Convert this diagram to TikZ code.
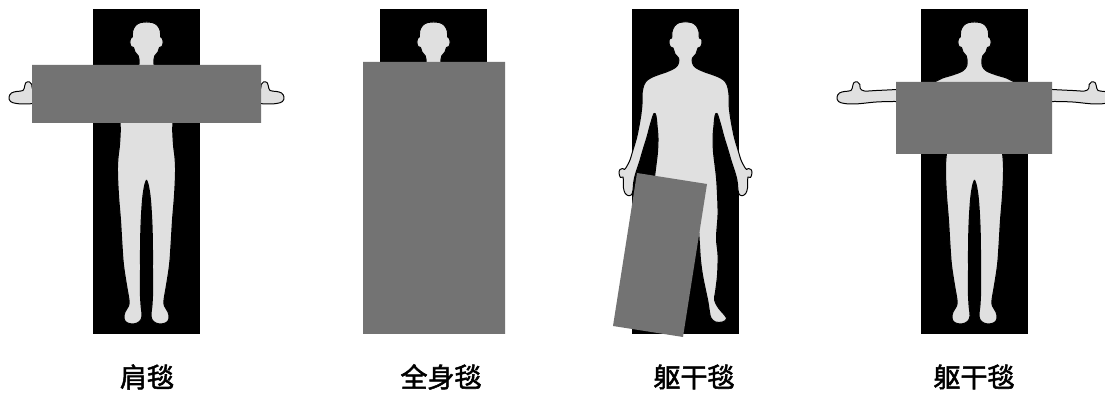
\documentclass[tikz,border=0pt]{standalone}
\usepackage{fontspec}
\usepackage{tikz}
\usepackage{tkz-euclide}
\newfontfamily\cjk[FakeBold=2]{Noto Sans CJK SC}

\definecolor{skin}{gray}{0.88}
\definecolor{blanket}{gray}{0.45}

% right halves of the two figures, x measured from the centre line
\newcommand\armsout{plot[smooth, tension=0.6] coordinates {(0,22) (6,22.6) (11,25.5)
  (13.8,31) (14.2,37) (16,38.5) (16.6,42) (15.6,46.5) (13,47.5) (11.5,52) (8.2,56)
  (7.4,60) (7.8,66) (12,71) (22,75) (32,78) (38,81) (46,85) (60,88) (78,89.5)
  (98,90.5) (110,91) (114.2,88.5) (114.6,84.5) (117,82) (120.5,82.5) (121.8,86)
  (123.5,90.5) (130,91.5) (135,93) (137.5,97) (136,101.5) (130,103.5) (120,104)
  (110,103.2) (98,102) (80,101.5) (60,102.2) (45,103.5) (34,105) (29.5,108)
  (27.5,116) (26.2,128) (27,145) (28.5,158) (29,172) (28,195) (26,220) (24.5,245)
  (23,265) (20,285) (17.5,300) (18,306) (21.5,312) (22.5,318) (20,322.5) (13,324)
  (7,321.5) (4.5,316) (5.5,305) (6.2,290) (6,270) (6,250) (5.5,225) (4,200)
  (2,186) (0,180)}}
\newcommand\armsdown{plot[smooth, tension=0.6] coordinates {(0,22) (6,22.5) (11,26)
  (13.5,32) (13.8,38) (16,39) (16.5,43) (15,47) (12.5,48) (10.5,54) (7,58) (7,63)
  (10,67.5) (18,71.5) (28,75) (35,78) (40,82) (42.5,88) (43.5,95) (43.5,104)
  (44.5,114) (46.5,126) (49,138) (52.5,150) (55.5,160) (58.5,166) (61,169.5)
  (63,168.5) (65.5,169.5) (66.5,173) (65,177.5) (62.5,177) (62.2,182) (62,188)
  (60.5,193) (57.5,195.5) (54,194.8) (52.5,190) (52,184) (51,178) (49,171)
  (46,162) (42.5,150) (38.5,137) (35,124) (31.5,113.5) (29.5,116) (28.5,125)
  (27.5,138) (28,152) (29.5,165) (31,178) (32,195) (32.5,215) (31,238) (32.5,255)
  (32,275) (30,292) (29,300) (33,308) (39,315) (41,319) (37,322) (30,322)
  (25.5,318) (24,312) (22.5,302) (20,290) (17,275) (15,260) (14,245) (12.5,225)
  (9,205) (4,193) (0,189)}}

% #1 half outline, #2 height of the crotch
\newcommand\person[2]{%
  \foreach \s in {1,-1} \fill[skin, xscale=\s] #1 -- (-1,#2) -- (-1,22) -- cycle;
  \foreach \s in {1,-1} \draw[outline, xscale=\s] #1;}

\tikzset{
  bed/.style={fill=black},
  outline/.style={draw=black, line width=0.5pt, line join=round},
  caption/.style={font={\cjk\fontsize{13.5}{16}\selectfont}, inner sep=0pt},
}

\begin{document}
\begin{tikzpicture}[x=0.5pt, y=-0.5pt]
\useasboundingbox (0,0) rectangle (1105,394);

% shoulders
\fill[bed] (93,9) rectangle (200,334);
\begin{scope}[shift={(146.5,0)}] \person\armsout{180} \end{scope}
\tkzDefPoints{32/65/a, 261/65/b, 261/123/c, 32/123/d}
\tkzDrawPolygon[draw=none, fill=blanket](a,b,c,d)

% whole body
\fill[bed] (380,9) rectangle (487,334);
\begin{scope}
  \clip (380,9) rectangle (487,334);
  \begin{scope}[shift={(433.5,0)}] \person\armsout{180} \end{scope}
\end{scope}
\tkzDefPoints{363/62/e, 505/62/f, 505/334/g, 363/334/h}
\tkzDrawPolygon[draw=none, fill=blanket](e,f,g,h)

% trunk, laid on slanted
\fill[bed] (632,9) rectangle (739,334);
\begin{scope}[shift={(685.5,0)}] \person\armsdown{189} \end{scope}
\tkzDefPoints{637/173/k, 707/184/l, 613/326/n}
\tkzDefPointsBy[translation = from k to n](l){m}
\tkzDrawPolygon[draw=none, fill=blanket](k,l,m,n)

% trunk, arms out
\fill[bed] (921,9) rectangle (1028,334);
\begin{scope}[shift={(974.5,0)}] \person\armsout{180} \end{scope}
\tkzDefPoints{896/82/p, 1052/82/q, 1052/154/r, 896/154/s}
\tkzDrawPolygon[draw=none, fill=blanket](p,q,r,s)

\node[caption] (t1) at (147,377) {肩毯};
\node[caption] (t2) at (441,377) {全身毯};
\node[caption] (t3) at (694,377) {躯干毯};
\node[caption] (t4) at (974,377) {躯干毯};
\end{tikzpicture}
\end{document}
